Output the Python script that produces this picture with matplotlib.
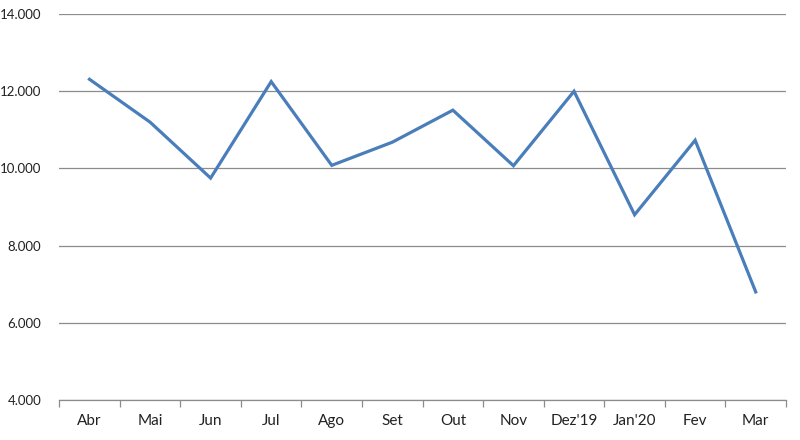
import matplotlib
matplotlib.use("Agg")
import matplotlib.pyplot as plt
from matplotlib.ticker import FuncFormatter, FixedLocator

# Dados
meses = ["Abr", "Mai", "Jun", "Jul", "Ago", "Set", "Out", "Nov",
         "Dez'19", "Jan'20", "Fev", "Mar"]
valores = [12310, 11200, 9750, 12250, 10080, 10680, 11510, 10070,
           12000, 8800, 10730, 6800]
y_ticks = [4000, 6000, 8000, 10000, 12000, 14000]

plt.rcParams["font.family"] = ["Lato", "DejaVu Sans"]

fig = plt.figure(figsize=(8, 4.4), dpi=100)
ax = fig.add_axes([0.074, 0.091, 0.9085, 0.877])

x = range(len(meses))
ax.plot(x, valores, color="#4a7ebb", linewidth=2.3, solid_joinstyle="miter", zorder=3)

ax.set_xlim(-0.5, len(meses) - 0.5)
ax.set_ylim(4000, 14000)
ax.set_yticks(y_ticks)
ax.yaxis.set_major_formatter(FuncFormatter(lambda v, p: f"{int(v):,}".replace(",", ".")))
ax.grid(axis="y", color="#8c8c8c", linewidth=0.9)
ax.set_axisbelow(True)

ax.set_xticks(list(x))
ax.set_xticklabels(meses)
ax.xaxis.set_minor_locator(FixedLocator([i - 0.5 for i in range(len(meses) + 1)]))
ax.tick_params(axis="x", which="major", length=0, labelsize=11, pad=10, colors="#222222")
ax.tick_params(axis="x", which="minor", length=5, color="#8c8c8c", width=0.9)
ax.tick_params(axis="y", length=0, labelsize=9.5, pad=13, colors="#222222")

for s in ["top", "right", "left"]:
    ax.spines[s].set_visible(False)
ax.spines["bottom"].set_color("#8c8c8c")
ax.spines["bottom"].set_linewidth(0.9)

fig.savefig("out.png", dpi=100)
